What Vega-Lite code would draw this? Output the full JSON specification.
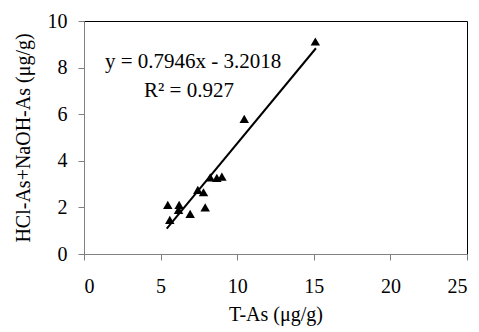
{
  "$schema": "https://vega.github.io/schema/vega-lite/v6.json",
  "width": 383,
  "height": 233,
  "autosize": {"type": "none"},
  "padding": {"left": 84, "top": 21, "right": 12, "bottom": 78},
  "background": "white",
  "config": {
    "font": "Liberation Serif",
    "view": {"stroke": "#000000", "strokeWidth": 1},
    "axis": {
      "grid": false,
      "domainColor": "#808080",
      "tickColor": "#808080",
      "labelFont": "Liberation Serif",
      "titleFont": "Liberation Serif",
      "labelFontSize": 20,
      "titleFontSize": 20,
      "titleFontWeight": "normal",
      "labelColor": "#000000",
      "titleColor": "#000000",
      "tickSize": 6
    }
  },
  "datasets": {
    "pts": [
      {"tas": 5.47, "hn": 2.11},
      {"tas": 6.21, "hn": 2.11},
      {"tas": 5.6, "hn": 1.46},
      {"tas": 6.17, "hn": 1.89},
      {"tas": 6.93, "hn": 1.72},
      {"tas": 7.91, "hn": 2.0},
      {"tas": 7.43, "hn": 2.75},
      {"tas": 7.8, "hn": 2.65},
      {"tas": 8.24, "hn": 3.29},
      {"tas": 8.67, "hn": 3.27},
      {"tas": 9.0, "hn": 3.32},
      {"tas": 10.46, "hn": 5.8},
      {"tas": 15.1, "hn": 9.12}
    ],
    "fit": [
      {"tas": 5.4, "hn": 1.09},
      {"tas": 15.14, "hn": 8.83}
    ]
  },
  "layer": [
    {
      "data": {"name": "fit"},
      "mark": {"type": "line", "color": "#000000", "strokeWidth": 2},
      "encoding": {
        "x": {"field": "tas", "type": "quantitative", "scale": {"domain": [0, 25], "nice": false}, "axis": {"values": [0, 5, 10, 15, 20, 25], "title": "T-As (μg/g)", "labelPadding": 16, "titlePadding": 8}},
        "y": {"field": "hn", "type": "quantitative", "scale": {"domain": [0, 10], "nice": false}, "axis": {"values": [0, 2, 4, 6, 8, 10], "title": "HCl-As+NaOH-As (μg/g)", "labelPadding": 11, "titlePadding": 14}}
      }
    },
    {
      "data": {"name": "pts"},
      "mark": {"type": "point", "shape": "triangle-up", "filled": true, "color": "#000000", "opacity": 1, "size": 90},
      "encoding": {
        "x": {"field": "tas", "type": "quantitative"},
        "y": {"field": "hn", "type": "quantitative"}
      }
    },
    {
      "data": {"values": [{"label": "y = 0.7946x - 3.2018"}]},
      "mark": {"type": "text", "fontSize": 21, "color": "#000000", "align": "center", "baseline": "middle"},
      "encoding": {
        "x": {"datum": 7.12},
        "y": {"datum": 8.22},
        "text": {"field": "label"}
      }
    },
    {
      "data": {"values": [{"label": "R² = 0.927"}]},
      "mark": {"type": "text", "fontSize": 21, "color": "#000000", "align": "center", "baseline": "middle"},
      "encoding": {
        "x": {"datum": 6.85},
        "y": {"datum": 7.0},
        "text": {"field": "label"}
      }
    }
  ]
}
